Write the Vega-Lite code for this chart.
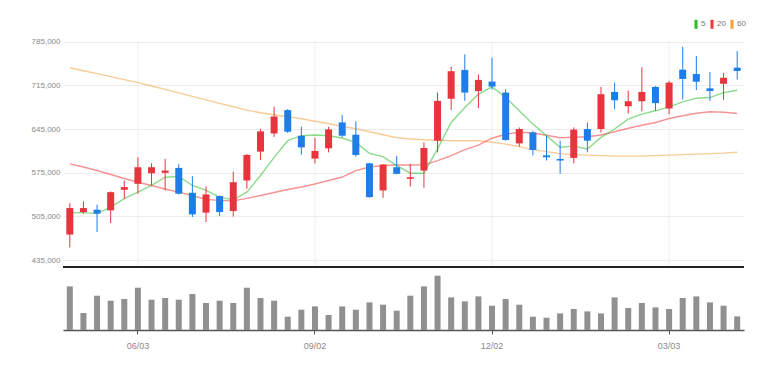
{
  "$schema": "https://vega.github.io/schema/vega-lite/v6.json",
  "width": 681,
  "height": 289,
  "autosize": {"type": "none"},
  "padding": {"left": 63, "top": 41, "right": 39, "bottom": 41},
  "background": "white",
  "config": {
    "view": {"stroke": null},
    "font": "Liberation Sans"
  },
  "datasets": {
    "k": [
      {"d": "2024-04-29", "o": 476000, "h": 526400, "l": 455200, "c": 518400, "v": 1090000, "5": 511100, "20": 589200, "60": 743200},
      {"d": "2024-05-06", "o": 512000, "h": 529100, "l": 509500, "c": 518400, "v": 425000, "5": 511100, "20": 584100, "60": 738400},
      {"d": "2024-05-13", "o": 515800, "h": 523800, "l": 480100, "c": 509500, "v": 857500, "5": 509500, "20": 578500, "60": 733700},
      {"d": "2024-05-20", "o": 514700, "h": 545000, "l": 494500, "c": 543900, "v": 732500, "5": 520000, "20": 572100, "60": 728900},
      {"d": "2024-05-27", "o": 547700, "h": 562600, "l": 533400, "c": 551900, "v": 775000, "5": 533400, "20": 565700, "60": 724100},
      {"d": "2024-06-03", "o": 557300, "h": 599700, "l": 541400, "c": 583800, "v": 1057500, "5": 543900, "20": 559800, "60": 719300},
      {"d": "2024-06-10", "o": 574200, "h": 590100, "l": 554600, "c": 583800, "v": 757500, "5": 554600, "20": 554600, "60": 714000},
      {"d": "2024-06-17", "o": 574800, "h": 597200, "l": 546600, "c": 578500, "v": 800000, "5": 567800, "20": 549000, "60": 708500},
      {"d": "2024-06-24", "o": 582700, "h": 589200, "l": 540200, "c": 541400, "v": 757500, "5": 568900, "20": 543900, "60": 702900},
      {"d": "2024-07-01", "o": 542900, "h": 569400, "l": 504000, "c": 508300, "v": 900000, "5": 554600, "20": 538600, "60": 697300},
      {"d": "2024-07-08", "o": 511100, "h": 552900, "l": 496100, "c": 540200, "v": 675000, "5": 546600, "20": 532300, "60": 691700},
      {"d": "2024-07-15", "o": 537500, "h": 538600, "l": 505600, "c": 512000, "v": 732500, "5": 535900, "20": 530700, "60": 686100},
      {"d": "2024-07-22", "o": 513600, "h": 576900, "l": 504800, "c": 559800, "v": 675000, "5": 531500, "20": 529900, "60": 680600},
      {"d": "2024-07-29", "o": 562600, "h": 605100, "l": 549300, "c": 603500, "v": 1057500, "5": 543900, "20": 533900, "60": 675300},
      {"d": "2024-08-05", "o": 608800, "h": 645000, "l": 595400, "c": 641200, "v": 800000, "5": 570500, "20": 538600, "60": 671000},
      {"d": "2024-08-12", "o": 637900, "h": 680600, "l": 632400, "c": 665100, "v": 732500, "5": 599700, "20": 543400, "60": 667800},
      {"d": "2024-08-19", "o": 675300, "h": 676900, "l": 638600, "c": 640700, "v": 332500, "5": 626300, "20": 548200, "60": 664600},
      {"d": "2024-08-26", "o": 634300, "h": 648700, "l": 603900, "c": 615600, "v": 507500, "5": 634300, "20": 552200, "60": 661400},
      {"d": "2024-09-02", "o": 597700, "h": 631100, "l": 589900, "c": 609900, "v": 590000, "5": 635400, "20": 557000, "60": 657400},
      {"d": "2024-09-09", "o": 614100, "h": 648700, "l": 607600, "c": 644400, "v": 375000, "5": 634300, "20": 562600, "60": 653400},
      {"d": "2024-09-16", "o": 655600, "h": 667300, "l": 631600, "c": 634300, "v": 590000, "5": 630600, "20": 568100, "60": 649500},
      {"d": "2024-09-23", "o": 635900, "h": 657200, "l": 600800, "c": 603500, "v": 507500, "5": 623600, "20": 578500, "60": 645500},
      {"d": "2024-09-30", "o": 590100, "h": 591000, "l": 535000, "c": 535900, "v": 690000, "5": 606100, "20": 584100, "60": 640700},
      {"d": "2024-10-07", "o": 546600, "h": 588900, "l": 534900, "c": 588100, "v": 632500, "5": 600800, "20": 586500, "60": 635900},
      {"d": "2024-10-14", "o": 583800, "h": 601900, "l": 572200, "c": 573200, "v": 482500, "5": 586500, "20": 587300, "60": 631100},
      {"d": "2024-10-21", "o": 565300, "h": 589200, "l": 553000, "c": 567800, "v": 857500, "5": 574200, "20": 587300, "60": 629100},
      {"d": "2024-10-28", "o": 578500, "h": 623600, "l": 550900, "c": 614700, "v": 1090000, "5": 574200, "20": 587600, "60": 627900},
      {"d": "2024-11-04", "o": 626300, "h": 703400, "l": 607600, "c": 690100, "v": 1357500, "5": 613100, "20": 594500, "60": 627100},
      {"d": "2024-11-11", "o": 693500, "h": 745000, "l": 675300, "c": 737600, "v": 815000, "5": 655500, "20": 602400, "60": 626300},
      {"d": "2024-11-18", "o": 739700, "h": 764600, "l": 690100, "c": 703400, "v": 715000, "5": 679400, "20": 612000, "60": 626300},
      {"d": "2024-11-25", "o": 705800, "h": 732200, "l": 678400, "c": 723700, "v": 840000, "5": 700800, "20": 619200, "60": 626300},
      {"d": "2024-12-02", "o": 721000, "h": 759300, "l": 708200, "c": 713000, "v": 607500, "5": 712400, "20": 630300, "60": 623900},
      {"d": "2024-12-09", "o": 703400, "h": 708800, "l": 626300, "c": 627500, "v": 775000, "5": 695400, "20": 636700, "60": 620800},
      {"d": "2024-12-16", "o": 622000, "h": 647500, "l": 616800, "c": 645000, "v": 632500, "5": 674200, "20": 639900, "60": 616800},
      {"d": "2024-12-23", "o": 639600, "h": 642300, "l": 602800, "c": 611500, "v": 332500, "5": 653000, "20": 638600, "60": 612000},
      {"d": "2024-12-30", "o": 602800, "h": 634300, "l": 594500, "c": 599700, "v": 307500, "5": 634300, "20": 635100, "60": 608800},
      {"d": "2025-01-06", "o": 597100, "h": 626400, "l": 573200, "c": 594500, "v": 415000, "5": 615700, "20": 631100, "60": 605600},
      {"d": "2025-01-13", "o": 598700, "h": 647500, "l": 589900, "c": 644000, "v": 525000, "5": 617600, "20": 631900, "60": 604000},
      {"d": "2025-01-20", "o": 645000, "h": 655500, "l": 607600, "c": 626300, "v": 465000, "5": 613100, "20": 632700, "60": 603200},
      {"d": "2025-01-27", "o": 645000, "h": 712500, "l": 639600, "c": 700800, "v": 415000, "5": 631600, "20": 635400, "60": 602400},
      {"d": "2025-02-03", "o": 704400, "h": 719300, "l": 676800, "c": 691100, "v": 815000, "5": 645000, "20": 640700, "60": 601600},
      {"d": "2025-02-10", "o": 681500, "h": 706600, "l": 669700, "c": 689500, "v": 550000, "5": 660900, "20": 646300, "60": 601600},
      {"d": "2025-02-17", "o": 689500, "h": 744000, "l": 673400, "c": 704400, "v": 675000, "5": 668900, "20": 651100, "60": 601600},
      {"d": "2025-02-24", "o": 712500, "h": 713500, "l": 674100, "c": 686500, "v": 565000, "5": 674200, "20": 655500, "60": 602400},
      {"d": "2025-03-03", "o": 677900, "h": 722000, "l": 668700, "c": 719300, "v": 525000, "5": 680600, "20": 661900, "60": 603200},
      {"d": "2025-03-10", "o": 740100, "h": 776800, "l": 692200, "c": 725200, "v": 800000, "5": 688500, "20": 666200, "60": 604000},
      {"d": "2025-03-17", "o": 733100, "h": 761900, "l": 707400, "c": 720800, "v": 840000, "5": 694400, "20": 670200, "60": 604800},
      {"d": "2025-03-24", "o": 710200, "h": 736500, "l": 690100, "c": 705900, "v": 690000, "5": 695400, "20": 672600, "60": 605600},
      {"d": "2025-03-31", "o": 717500, "h": 735000, "l": 691700, "c": 727100, "v": 607500, "5": 703400, "20": 671800, "60": 606400},
      {"d": "2025-04-07", "o": 743300, "h": 769800, "l": 724200, "c": 738000, "v": 340000, "5": 707200, "20": 669900, "60": 607700}
    ]
  },
  "data": {"name": "k"},
  "layer": [
    {
      "layer": [
        {
          "transform": [{"filter": "indexof(['2024-06-03','2024-09-02','2024-12-02','2025-03-03'], datum.d) >= 0"}],
          "mark": {"type": "rule", "color": "#eeeeee", "strokeWidth": 1},
          "encoding": {
            "x": {
              "field": "d", "type": "ordinal",
              "scale": {"paddingInner": 0, "paddingOuter": 0},
              "axis": {
                "title": null,
                "values": ["2024-06-03", "2024-09-02", "2024-12-02", "2025-03-03"],
                "labelExpr": "slice(datum.value,5,7) + '/' + slice(datum.value,8,10)",
                "labelAngle": 0,
                "grid": false,
                "domainColor": "#555555",
                "domainWidth": 1.5,
                "tickColor": "#555555",
                "tickSize": 4,
                "labelColor": "#8a8a8a",
                "labelFontSize": 9,
                "labelPadding": 7
              }
            },
            "y": {
              "datum": 424000, "type": "quantitative",
              "scale": {"domain": [424000, 786000], "range": [226, 0], "nice": false, "zero": false},
              "axis": {
                "title": null,
                "values": [435000, 505000, 575000, 645000, 715000, 785000],
                "format": ",d",
                "grid": true,
                "gridColor": "#ececec",
                "domain": false,
                "ticks": false,
                "labelColor": "#8a8a8a",
                "labelFontSize": 8,
                "labelPadding": 3
              }
            },
            "y2": {"datum": 786000}
          }
        },
        {
          "data": {"values": [{}]},
          "mark": {"type": "rule", "color": "#222222", "strokeWidth": 2},
          "encoding": {
            "y": {"datum": 424000, "type": "quantitative", "scale": {"domain": [424000, 786000], "range": [226, 0], "nice": false, "zero": false}}
          }
        },
        {
          "transform": [{"fold": ["60", "20", "5"], "as": ["ma", "val"]}],
          "mark": {"type": "line", "strokeWidth": 1.4, "strokeOpacity": 0.55, "interpolate": "linear"},
          "encoding": {
            "x": {"field": "d", "type": "ordinal"},
            "y": {"field": "val", "type": "quantitative", "scale": {"domain": [424000, 786000], "range": [226, 0], "nice": false, "zero": false}},
            "color": {
              "field": "ma", "type": "nominal",
              "scale": {"domain": ["5", "20", "60"], "range": ["#2dbd2d", "#ef3b3b", "#f3a23f"]},
              "legend": {
                "title": null,
                "orient": "none",
                "legendX": 629,
                "legendY": -21,
                "direction": "horizontal",
                "symbolType": "M-0.7,-2H0.7V2H-0.7Z",
                "symbolSize": 20,
                "symbolStrokeWidth": 0,
                "labelFontSize": 8,
                "labelColor": "#777777",
                "labelOffset": 1,
                "columnPadding": 2,
                "padding": 0,
                "encode": {
                  "symbols": {
                    "update": {
                      "fill": {"scale": "color", "field": "value"},
                      "fillOpacity": {"value": 1},
                      "opacity": {"value": 1},
                      "strokeWidth": {"value": 0}
                    }
                  }
                }
              }
            }
          }
        },
        {
          "mark": {"type": "rule", "strokeWidth": 1},
          "encoding": {
            "x": {"field": "d", "type": "ordinal"},
            "y": {"field": "l", "type": "quantitative", "scale": {"domain": [424000, 786000], "range": [226, 0], "nice": false, "zero": false}},
            "y2": {"field": "h"},
            "color": {"condition": {"test": "datum.c >= datum.o", "value": "#e8343c"}, "value": "#1f7de8"}
          }
        },
        {
          "mark": {"type": "bar", "size": 7},
          "encoding": {
            "x": {"field": "d", "type": "ordinal"},
            "y": {"field": "o", "type": "quantitative", "scale": {"domain": [424000, 786000], "range": [226, 0], "nice": false, "zero": false}},
            "y2": {"field": "c"},
            "color": {"condition": {"test": "datum.c >= datum.o", "value": "#e8343c"}, "value": "#1f7de8"}
          }
        }
      ]
    },
    {
      "mark": {"type": "bar", "size": 6, "color": "#909090"},
      "encoding": {
        "x": {"field": "d", "type": "ordinal"},
        "y": {"field": "v", "type": "quantitative", "scale": {"domain": [0, 1550000], "range": [289, 227], "nice": false, "zero": true}, "axis": null},
        "y2": {"datum": 0}
      }
    }
  ],
  "resolve": {"scale": {"y": "independent"}, "axis": {"y": "independent"}}
}
